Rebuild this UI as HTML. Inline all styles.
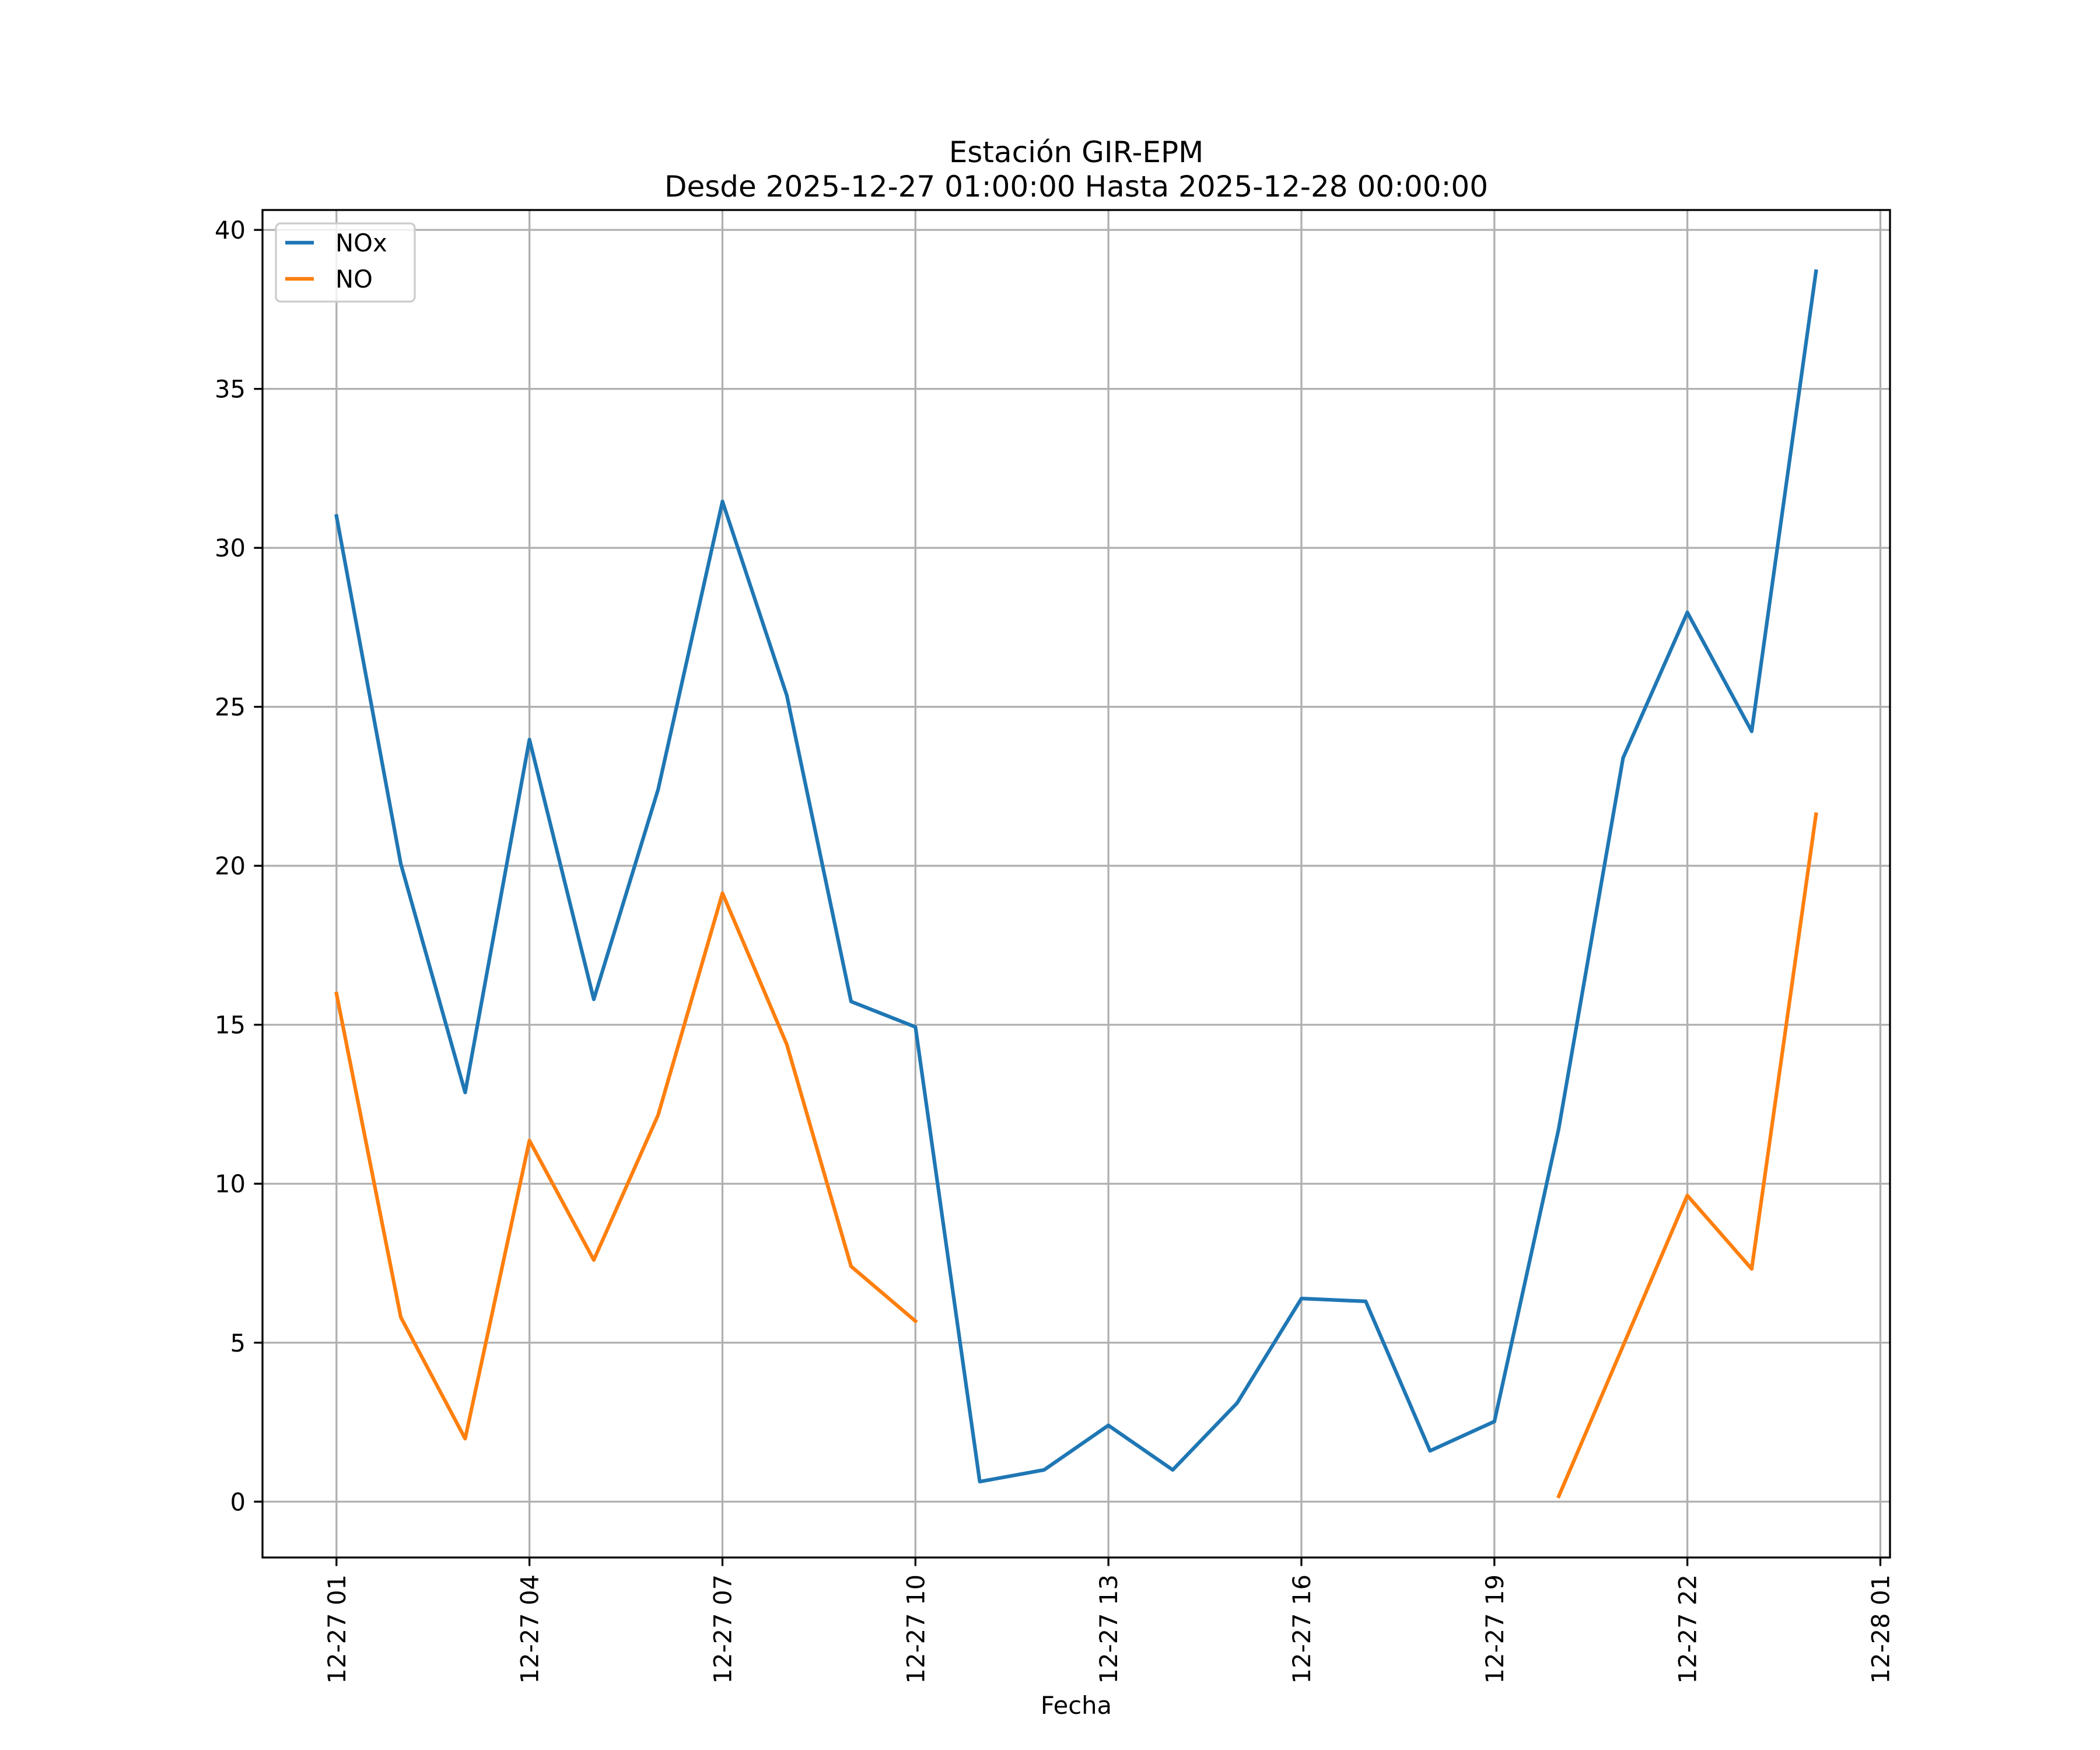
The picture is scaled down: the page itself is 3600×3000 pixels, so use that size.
<!DOCTYPE html>
<html><head><meta charset="utf-8"><style>
html,body{margin:0;padding:0;background:#fff;}
svg{display:block;font-family:"DejaVu Sans","Liberation Sans",sans-serif;}
</style></head><body>
<svg id="chart" width="3600" height="3000" viewBox="0 0 3600 3000" xmlns="http://www.w3.org/2000/svg">
<rect x="0" y="0" width="3600" height="3000" fill="#fff"/>
<text x="1845" y="278" font-size="50" text-anchor="middle">Estación GIR-EPM</text>
<text x="1845" y="337" font-size="50" text-anchor="middle">Desde 2025-12-27 01:00:00 Hasta 2025-12-28 00:00:00</text>
<g id="grid"></g>
<g id="series"></g>
<rect x="450" y="360" width="2790" height="2310" fill="none" stroke="#000" stroke-width="3.3"/>
<g id="ticks"></g>
<text x="1845" y="2938" font-size="41.7" text-anchor="middle">Fecha</text>
<g>
<rect x="473" y="383" width="238" height="134" rx="8" fill="#fff" fill-opacity="0.8" stroke="#ccc" stroke-width="3.3"/>
<line x1="489" y1="416" x2="538" y2="416" stroke="#1f77b4" stroke-width="6.25"/>
<text x="575" y="431" font-size="41.7">NOx</text>
<line x1="489" y1="478" x2="538" y2="478" stroke="#ff7f0e" stroke-width="6.25"/>
<text x="575" y="493" font-size="41.7">NO</text>
</g>
</svg>
<script>
const hours = [1,2,3,4,5,6,7,8,9,10,11,12,13,14,15,16,17,18,19,20,21,22,23,24];
const noxValues = [31.0,20.06,12.87,23.97,15.8,22.4,31.46,25.36,15.73,14.93,0.63,1.0,2.4,1.0,3.1,6.39,6.3,1.6,2.52,11.73,23.39,27.97,24.23,38.7];
const noValues = [15.98,5.8,1.98,11.36,7.6,12.16,19.14,14.38,7.4,5.68,null,null,null,null,null,null,null,null,null,0.17,4.9,9.63,7.32,21.62];
const yTicks = [0,5,10,15,20,25,30,35,40];
const xTickHours = [1,4,7,10,13,16,19,22,25];
const xTickLabels = ["12-27 01","12-27 04","12-27 07","12-27 10","12-27 13","12-27 16","12-27 19","12-27 22","12-28 01"];

const NS="http://www.w3.org/2000/svg";
const L=450,R=3240,T=360,B=2670;
const allVals=noxValues.concat(noValues).filter(v=>v!==null);
const ymin=Math.min(...allVals), ymax=Math.max(...allVals), ym=(ymax-ymin)*0.05;
const y0=ymin-ym, y1=ymax+ym;
const hmin=hours[0], hmax=hours[hours.length-1], hm=(hmax-hmin)*0.05;
const x0=hmin-hm, x1=hmax+hm;
const sx=h=>L+(h-x0)/(x1-x0)*(R-L);
const sy=v=>B-(v-y0)/(y1-y0)*(B-T);
function mk(tag,attrs,parent){const e=document.createElementNS(NS,tag);for(const k in attrs)e.setAttribute(k,attrs[k]);parent.appendChild(e);return e;}
const grid=document.getElementById('grid'),ticks=document.getElementById('ticks'),series=document.getElementById('series');
yTicks.forEach(v=>{
  const y=sy(v);
  const g=mk('line',{x1:L,x2:R,y1:y,y2:y,stroke:'#b0b0b0','stroke-width':3.3},grid);
  
  
  const t=mk('line',{x1:L-14.6,x2:L,y1:y,y2:y,stroke:'#000','stroke-width':3.3},ticks);
  
  
  const tx=mk('text',{x:L-29,y:y+15,'font-size':41.7,'text-anchor':'end'},ticks);
  tx.textContent=v;
  
  
});
xTickHours.forEach((h,i)=>{
  const x=sx(h);
  const g=mk('line',{x1:x,x2:x,y1:T,y2:B,stroke:'#b0b0b0','stroke-width':3.3},grid);
  
  
  const t=mk('line',{x1:x,x2:x,y1:B,y2:B+14.6,stroke:'#000','stroke-width':3.3},ticks);
  
  
  const tx=mk('text',{x:0,y:0,'font-size':41.7,'text-anchor':'end',transform:`translate(${x+15},${B+29}) rotate(-90)`},ticks);
  tx.textContent=xTickLabels[i];
  
  
});
function drawSeries(vals,color,name){
  let segs=[],cur=[];
  vals.forEach((v,i)=>{if(v===null){if(cur.length)segs.push(cur);cur=[];}else cur.push(sx(hours[i]).toFixed(1)+','+sy(v).toFixed(1));});
  if(cur.length)segs.push(cur);
  segs.forEach(s=>{
    const p=mk('polyline',{points:s.join(' '),fill:'none',stroke:color,'stroke-width':6.25,'stroke-linejoin':'round','stroke-linecap':'square'},series);
    
    
  });
}
drawSeries(noxValues,'#1f77b4','nox-line');
drawSeries(noValues,'#ff7f0e','no-line');
</script>
</body></html>
